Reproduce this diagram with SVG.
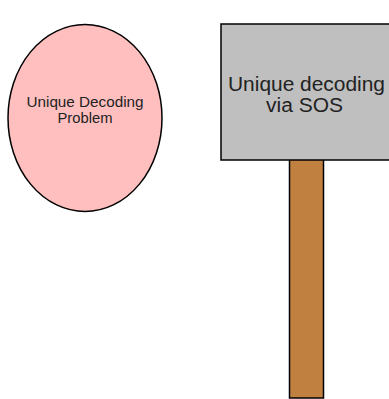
<svg xmlns="http://www.w3.org/2000/svg" width="389" height="399" viewBox="0 0 389 399">
<style>
.s{stroke:#000;stroke-width:1.5}
.t{font-family:"Liberation Sans",Arial,sans-serif;fill:#222;text-anchor:middle}
.a{font-size:14px}
.b{font-size:20px}
</style>
<rect width="389" height="399" fill="#fff"/>
<g id="problem">
<ellipse class="s" cx="85" cy="118" rx="77" ry="93.5" fill="#FFBFBF"/>
<text class="t a" x="85" y="107" textLength="117" lengthAdjust="spacingAndGlyphs">Unique Decoding</text>
<text class="t a" x="85" y="123" textLength="55" lengthAdjust="spacingAndGlyphs">Problem</text>
</g>
<g id="post">
<rect class="s" x="289.5" y="150" width="34" height="248" fill="#BF8040"/>
</g>
<g id="sign">
<rect class="s" x="221" y="24" width="170" height="136" fill="#BFBFBF"/>
<text class="t b" x="306.5" y="91" textLength="157" lengthAdjust="spacingAndGlyphs">Unique decoding</text>
<text class="t b" x="304.5" y="112" textLength="77" lengthAdjust="spacingAndGlyphs">via SOS</text>
</g>
</svg>
